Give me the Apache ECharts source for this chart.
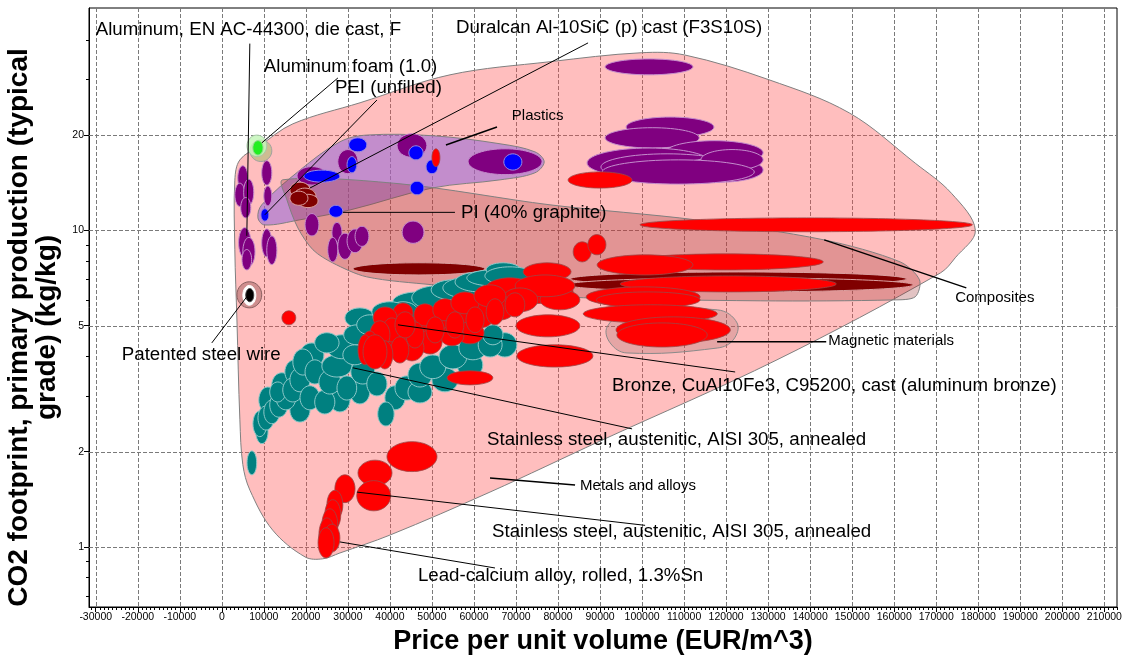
<!DOCTYPE html>
<html><head><meta charset="utf-8">
<script src="https://cdn.jsdelivr.net/npm/echarts@6/dist/echarts.min.js"></script>
<style>html,body{margin:0;padding:0;background:#fff}#c{width:1124px;height:655px}</style>
</head><body><div id="c"></div>
<script>
// ---------- axis ranges & ticks ----------
const X_MIN = -31600, X_MAX = 213000;
const Y_MIN = 0.646, Y_MAX = 50.4;
const xTickValues = [-30000,-20000,-10000,0,10000,20000,30000,40000,50000,60000,70000,80000,90000,100000,110000,120000,130000,140000,150000,160000,170000,180000,190000,200000,210000];
const yTickValues = [1,2,5,10,20];
const yMinorTickValues = [0.7,0.8,0.9,3,4,6,7,8,9,30,40];

// ---------- material bubbles: [priceLow, priceHigh, co2Low, co2High] ----------
const polymers = [
 [3800,6200,13.4,16.0],[3100,5500,11.9,14.1],[5200,7600,12.0,14.5],[4500,6900,10.95,12.7],
 [9500,11900,13.9,16.6],[10000,11900,11.95,13.8],[4000,6900,8.2,10.2],[5000,7900,7.7,9.5],
 [4800,7100,7.5,8.7],[9500,11900,8.25,10.1],[10700,13100,7.8,9.6],[17900,25000,13.9,15.9],
 [27600,32400,15.1,18.0],[41700,48800,17.0,20.2],[58600,76200,15.0,18.1],[19800,23100,9.6,11.3],
 [26200,28600,9.1,10.6],[25200,27600,7.95,9.5],[27600,31000,8.1,9.8],[29800,33600,8.5,10.1],
 [31700,35000,8.9,10.3],[42900,48100,9.1,10.7],[91200,112100,31.0,34.8],
 [96200,117100,19.7,22.8],[91200,113600,18.2,21.1],[105500,128800,16.1,19.2],[86900,116400,14.65,18.2],
 [90200,121700,14.4,17.45],[108800,128800,14.2,16.95],[114000,128800,15.5,18.0],[90500,126700,14.0,16.7]
];
const polymersBlue = [
 [30200,34500,17.7,19.6],[29800,32100,15.2,17.1],[19500,28100,14.2,15.5],[9300,11200,10.7,11.7],
 [25500,28800,11.0,12.0],[44800,48100,12.95,14.3],[44500,47900,16.7,18.5],[48600,51400,15.1,16.7],
 [67100,71400,15.5,17.45]
];
const compositesDark = [
 [31200,62600,7.23,7.9],[82900,162900,6.68,7.39],[82100,164500,6.39,7.08],
 [16200,21000,12.7,14.2],[17100,22400,12.1,13.6],[18100,22900,11.8,13.0],[16200,20500,12.0,13.3]
];
const steels = [
 [8100,11000,2.12,2.52],[8800,13100,2.65,3.2],[11900,16700,2.98,3.55],[15000,19800,3.27,3.9],
 [18600,24300,3.7,4.41],[16200,21000,2.48,2.96],[25700,30500,2.67,3.18],[30500,35200,2.83,3.37],
 [29300,36400,4.92,5.69],
 [7400,10700,2.23,2.69],[8600,12400,2.34,2.79],[10000,13800,2.45,2.91],[11400,15700,2.57,3.07],
 [12900,17600,2.71,3.23],[11400,15200,2.87,3.32],[14500,19300,2.87,3.42],[16200,21000,3.09,3.68],
 [16900,21700,3.49,4.22],[19800,24500,3.27,3.9],[18600,23300,2.71,3.23],[22100,26900,2.63,3.13],
 [23100,28300,3.04,3.62],[23800,31000,3.44,4.04],[25000,32100,3.93,4.68],[29000,35200,4.35,5.03],
 [32100,38300,4.68,5.41],[36000,42600,4.96,5.73],[27400,32100,2.91,3.47],[30700,36400,3.27,3.9],
 [34500,39300,3.0,3.57],[38800,43600,2.71,3.23],[37100,41000,2.41,2.87],[41200,46900,2.91,3.47],
 [44300,50000,2.85,3.34],[50000,56200,3.09,3.68],[56000,62100,3.44,4.1],[64500,70200,3.98,4.75],
 [44300,50000,3.2,3.81],[47100,53300,3.4,4.04],[51700,58300,3.65,4.35],[56400,63100,3.9,4.64],
 [61000,66700,3.98,4.75],[62100,66900,4.35,5.03],[40700,52600,5.53,6.39],[45200,57100,5.61,6.68],
 [49800,60200,6.03,6.98],[52600,66000,6.08,7.13],[55500,67400,6.39,7.39],[58300,70200,6.68,7.5],
 [62900,71000,7.13,7.9],[62600,74500,6.73,7.67],[39500,46700,5.14,5.95],[6000,8300,1.69,2.01],
 [22100,27900,4.1,4.75],[28800,34500,3.76,4.35],[39000,45700,3.98,4.75],[53100,60200,4.61,5.49],
 [35700,44300,5.14,5.95]
];
const metals = [
 [99500,178600,9.9,10.95],[83600,87900,7.95,9.2],[87100,91400,8.37,9.7],[96400,143100,7.5,8.43],
 [89300,112100,7.23,8.37],[94800,146200,6.39,7.18],[86700,113800,5.73,6.63],[89100,113800,5.69,6.39],
 [86000,117900,5.1,5.82],[93800,121000,4.41,5.33],[94000,115500,4.28,5.1],[71700,83100,6.93,7.9],
 [62100,83600,5.86,6.98],[75700,85200,5.61,6.49],[70000,85200,4.61,5.41],[70200,88300,3.7,4.35],[53600,64500,3.25,3.6],
 [62600,74500,5.95,7.08],[69800,84000,6.17,7.23],[66700,75200,5.53,6.58],[62600,69800,5.21,6.21],
 [57900,65000,4.92,5.95],[53300,60000,4.81,5.82],[48800,55000,4.68,5.65],[44300,50000,4.54,5.41],
 [55700,62400,4.38,5.14],[51900,57600,4.32,4.99],[46700,52400,4.07,4.85],[42400,48100,3.87,4.68],
 [40700,45500,5.1,5.9],[36000,41700,4.89,5.73],[39500,44300,4.16,5.03],[37100,41900,3.93,4.81],
 [38300,42600,4.44,5.29],[45700,51000,4.99,5.86],[50200,56000,5.18,6.08],[54500,61200,5.45,6.39],
 [60000,67600,5.73,6.73],[67400,72100,5.33,6.35],[62900,67100,5.03,6.08],[58100,62400,4.75,5.73],
 [53300,57600,4.57,5.53],[48600,52900,4.41,5.33],[43800,48100,4.25,5.14],[41200,46000,4.57,5.53],
 [35200,40000,4.22,5.18],[40200,44500,3.81,4.61],[36900,40700,3.65,4.48],
 [33300,37100,3.93,4.81],[32400,35700,3.76,4.68],[33600,39300,3.65,4.68],
 [39300,51200,1.73,2.15],[32400,40500,1.56,1.88],[32100,40200,1.30,1.62],[26900,31700,1.38,1.69],
 [25000,28800,1.22,1.51],[24500,28300,1.13,1.41],[23800,27600,1.04,1.32],[23100,26900,0.964,1.235],
 [24300,28100,0.964,1.18],[22900,26700,0.923,1.15],[14300,17600,5.03,5.57],[82400,97600,13.6,15.3],
 [50000,51900,15.9,18.1]
];
const foams = [[7400,9800,17.3,19.2]];
const wires = [[5700,7600,5.95,6.55]];

// ---------- family envelopes: [price, co2] ----------
const envMetals = [[3100,14.4],[4300,16.7],[9000,18.5],[16900,21.7],[32900,25.3],[54300,31.0],[78100,34.1],[99800,36.4],[110200,35.8],[130200,29.9],[149300,23.5],[165000,16.3],[173600,13.1],[179300,10.0],[174500,8.19],[171000,7.34],[132100,3.9],[90000,2.16],[63800,1.49],[40000,1.09],[28100,0.957],[24000,0.917],[19800,0.93],[12100,1.13],[6700,1.51],[5000,1.82],[4300,2.52],[3600,5.21],[3100,8.68]];
const envPlastics = [[8600,10.95],[9500,12.04],[18600,15.5],[28100,19.04],[34500,20.0],[50200,19.9],[66200,18.77],[74500,17.7],[76700,16.46],[74500,15.2],[66200,14.44],[50200,13.62],[30500,11.6],[18600,10.8],[10200,10.4]];
const envComposites = [[14500,14.44],[42400,14.03],[78100,12.04],[112900,10.79],[143300,9.33],[161400,7.95],[166000,6.98],[165000,6.17],[159800,6.03],[128100,5.99],[80500,6.17],[50200,6.73],[34500,7.13],[26400,7.89],[21700,8.68],[18100,10.18],[15500,12.48]];
const envMagnetic = [[91700,4.96],[96400,5.49],[117900,5.61],[122600,5.10],[121700,4.51],[117900,4.25],[96400,4.10],[92400,4.41]];
const envFoamA = [[6700,11900,16.5,19.3]];
const envFoamB = [[6000,10700,17.1,20.0]];
const envWire = [[3600,9500,5.69,6.88]];
const envWireInner = [[5000,8100,5.8,6.7]];

// ---------- annotations: [textX, textY, lineX1, lineY1, lineX2, lineY2] ----------
const annotationTexts = ['Aluminum, EN AC-44300, die cast, F','Aluminum foam (1.0)','PEI (unfilled)','Duralcan Al-10SiC (p) cast (F3S10S)','Plastics','PI (40% graphite)','Composites','Magnetic materials','Bronze, CuAl10Fe3, C95200, cast (aluminum bronze)','Stainless steel, austenitic, AISI 305, annealed','Stainless steel, austenitic, AISI 305, annealed','Lead-calcium alloy, rolled, 1.3%Sn','Patented steel wire','Metals and alloys'];
const annotationSmall = [false,false,false,false,true,false,true,true,false,false,false,false,false,true];
const annotations = [
 [-30000,43.0,6667,38.9,5952,9.61],
 [10000,32.9,9524,18.9,27619,30.3],
 [26905,28.2,36905,25.8,10238,11.2],
 [55700,43.6,87143,39.1,20952,13.6],
 [69000,23.0,53333,18.6,65476,21.2],
 [56905,11.36,28810,11.4,55476,11.4],
 [174500,6.12,143333,9.33,177143,6.58],
 [144286,4.48,117857,4.45,143810,4.45],
 [92857,3.23,41905,5.03,122143,3.57],
 [63095,2.18,31190,3.68,97619,2.36],
 [64286,1.115,32143,1.49,100714,1.17],
 [46667,0.81,28095,1.037,65000,0.858],
 [-23800,4.04,5952,6.17,-2381,4.41],
 [85238,1.56,63810,1.65,84048,1.57]
];

const FONT = '"Liberation Sans", Arial, sans-serif';
const xMinorTicks = [];
for (let v = -31000; v <= 213000; v += 1000) if (v % 10000 !== 0) xMinorTicks.push(v);

function ellipseSeries(data, fill, stroke, lw) {
  return {
    type: 'custom', coordinateSystem: 'cartesian2d', data: data, silent: true,
    encode: {x: [0, 1], y: [2, 3]},
    renderItem: function (params, api) {
      const a = api.coord([api.value(0), api.value(2)]);
      const b = api.coord([api.value(1), api.value(3)]);
      return {type: 'ellipse', shape: {cx: (a[0] + b[0]) / 2, cy: (a[1] + b[1]) / 2, rx: Math.abs(b[0] - a[0]) / 2, ry: Math.abs(b[1] - a[1]) / 2},
        style: {fill: fill, stroke: stroke, lineWidth: lw}};
    }
  };
}
function envelopeSeries(points, fill, stroke, smooth) {
  return {
    type: 'custom', coordinateSystem: 'cartesian2d', data: points, silent: true,
    encode: {x: 0, y: 1},
    renderItem: function (params, api) {
      if (params.dataIndex !== 0) return null;
      const pts = points.map(p => api.coord(p));
      return {type: 'polygon', shape: {points: pts, smooth: smooth}, style: {fill: fill, stroke: stroke, lineWidth: 1}};
    }
  };
}
function gridSeries(values, vertical) {
  return {
    type: 'custom', coordinateSystem: 'cartesian2d', silent: true,
    data: values.map(v => vertical ? [v, 1] : [0, v]),
    encode: {x: 0, y: 1},
    renderItem: function (params, api) {
      const cs = params.coordSys;
      const p = api.coord([api.value(0), api.value(1)]);
      const shape = vertical
        ? {x1: Math.round(p[0]) + 0.5, y1: cs.y, x2: Math.round(p[0]) + 0.5, y2: cs.y + cs.height}
        : {x1: cs.x, y1: Math.round(p[1]) + 0.5, x2: cs.x + cs.width, y2: Math.round(p[1]) + 0.5};
      return {type: 'line', shape: shape, style: {stroke: '#7a7a7a', lineWidth: 1, lineDash: [4, 2]}};
    }
  };
}
const annotationSeries = {
  type: 'custom', coordinateSystem: 'cartesian2d', silent: true, clip: false,
  data: annotations, encode: {x: [0, 2, 4], y: [1, 3, 5]},
  renderItem: function (params, api) {
    const i = params.dataIndex;
    const t = api.coord([api.value(0), api.value(1)]);
    const p1 = api.coord([api.value(2), api.value(3)]);
    const p2 = api.coord([api.value(4), api.value(5)]);
    const small = annotationSmall[i];
    return {type: 'group', children: [
      {type: 'line', shape: {x1: p1[0], y1: p1[1], x2: p2[0], y2: p2[1]}, style: {stroke: '#000', lineWidth: small ? 1.5 : 1}},
      {type: 'text', x: t[0], y: t[1], style: {text: annotationTexts[i], fill: '#000', font: (small ? '15px ' : '18.7px ') + FONT, align: 'left', verticalAlign: 'middle'}}
    ]};
  }
};

const chart = echarts.init(document.getElementById('c'), null, {renderer: 'canvas'});
chart.setOption({
  animation: false,
  backgroundColor: '#fff',
  textStyle: {fontFamily: FONT},
  grid: {left: 89, right: 7, top: 8, bottom: 48, containLabel: false, outerBoundsMode: 'none', show: true, borderColor: '#000', borderWidth: 1, backgroundColor: 'transparent'},
  xAxis: [
    {type: 'value', min: X_MIN, max: X_MAX, position: 'bottom',
     name: 'Price per unit volume (EUR/m^3)', nameLocation: 'middle', nameGap: 14,
     nameTextStyle: {fontSize: 27, fontWeight: 'bold', color: '#000', fontFamily: FONT},
     axisLine: {show: true, onZero: false, lineStyle: {color: '#000', width: 1}},
     axisTick: {show: true, customValues: xTickValues, length: 5, lineStyle: {color: '#000'}},
     axisLabel: {customValues: xTickValues, fontSize: 10.5, color: '#000', margin: 5, formatter: v => String(Math.round(v))},
     splitLine: {show: false}},
    {type: 'value', min: X_MIN, max: X_MAX, position: 'bottom',
     axisLine: {show: false, onZero: false}, axisTick: {show: true, customValues: xMinorTicks, length: 3, lineStyle: {color: '#000'}},
     axisLabel: {show: false}, splitLine: {show: false}}
  ],
  yAxis: [
    {type: 'log', logBase: 10, min: Y_MIN, max: Y_MAX, position: 'left',
     name: 'CO2 footprint, primary production (typical\ngrade) (kg/kg)', nameLocation: 'middle', nameRotate: 90, nameGap: 25,
     nameTextStyle: {fontSize: 28, fontWeight: 'bold', color: '#000', fontFamily: FONT, lineHeight: 28, padding: [0, 40, 0, 0]},
     axisLine: {show: true, onZero: false, lineStyle: {color: '#000', width: 1}},
     axisTick: {show: true, customValues: yTickValues, length: 5, lineStyle: {color: '#000'}},
     axisLabel: {customValues: yTickValues, fontSize: 10.5, color: '#000', margin: 5, formatter: v => String(Math.round(v * 100) / 100)},
     splitLine: {show: false}, minorTick: {show: false}},
    {type: 'log', logBase: 10, min: Y_MIN, max: Y_MAX, position: 'left',
     axisLine: {show: false, onZero: false}, axisTick: {show: true, customValues: yMinorTickValues, length: 3, lineStyle: {color: '#000'}},
     axisLabel: {show: false}, splitLine: {show: false}}
  ],
  series: [
    gridSeries(xTickValues, true),
    gridSeries(yTickValues, false),
    envelopeSeries(envMetals, 'rgba(255,74,74,0.36)', '#808080', 0.35),
    envelopeSeries(envPlastics, 'rgba(145,100,215,0.55)', '#808080', 0.35),
    envelopeSeries(envComposites, 'rgba(150,40,40,0.28)', '#808080', 0.3),
    envelopeSeries(envMagnetic, 'rgba(150,90,90,0.25)', '#8a8a8a', 0.4),
    ellipseSeries(envFoamA, '#cdbd92', '#a0a0a0', 1),
    ellipseSeries(envFoamB, 'rgba(196,246,186,0.85)', '#a8c8a8', 1),
    ellipseSeries(envWire, 'rgba(175,110,110,0.6)', '#8a6060', 1),
    ellipseSeries(envWireInner, '#ffffff', '#ffffff', 1),
    ellipseSeries(polymers, '#800080', '#c48ccc', 1),
    ellipseSeries(polymersBlue, '#0000ff', '#9a8ae0', 1),
    ellipseSeries(compositesDark, '#800000', '#dca0a0', 1),
    ellipseSeries(steels, '#008080', '#8cc8c8', 1),
    ellipseSeries(metals, '#ff0000', '#9c4848', 0.8),
    ellipseSeries(foams, '#22ee22', '#88dd88', 1),
    ellipseSeries(wires, '#000000', '#444444', 1),
    annotationSeries
  ]
});
</script></body></html>
